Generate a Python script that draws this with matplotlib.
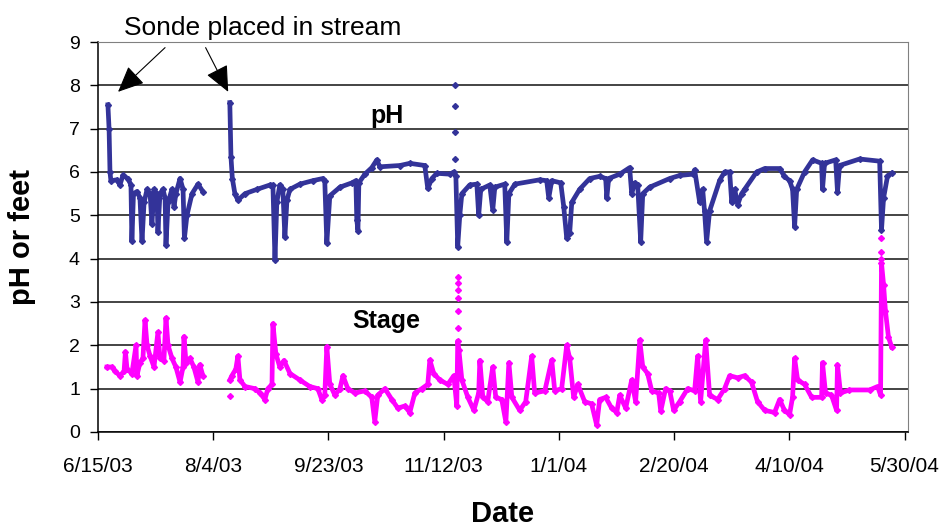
import numpy as np
import matplotlib
matplotlib.use("Agg")
import matplotlib.pyplot as plt

plt.rcParams['font.family'] = ['Liberation Sans', 'DejaVu Sans']

# ---- data (day offsets from 6/15/03) ----
tick_days = [0, 50, 100, 150, 200, 250, 300, 350]
tick_labels = ['6/15/03', '8/4/03', '9/23/03', '11/12/03', '1/1/04', '2/20/04', '4/10/04', '5/30/04']

ph_day = [4.3, 4.8, 5.2, 5.6, 8.2, 9.5, 10.8, 13.0, 14.3, 14.7, 15.4, 16.9, 18.2, 19.1, 20.0, 21.3,
          22.6, 23.4, 24.3, 25.6, 26.0, 26.9, 28.2, 29.1, 29.5, 30.4, 32.1, 33.0, 33.8, 35.6, 36.9,
          37.5, 38.6, 40.8, 43.4, 45.5, np.nan,
          57.2, 57.7, 58.3, 59.4, 60.7, 63.8, 69.0, 74.6, 75.9, 76.8, 77.6, 78.9, 80.2, 81.1, 82.0,
          83.3, 87.6, 93.2, 97.6, 98.4, 99.3, 100.6, 105.0, 110.2, 111.9, 112.3, 112.8, 113.2, 115.8,
          118.8, 121.0, 122.3, 131.0, 135.3, 141.8, 143.1, 144.9, 147.0, 152.7, 154.4, 155.3, 156.1,
          157.0, 157.9, 161.3, 164.4, 165.2, 166.1, 170.0, 171.3, 172.2, 176.5, 177.4, 178.3, 180.9,
          191.7, 194.7, 195.6, 196.9, 200.8, 202.1, 203.4, 204.7, 205.6, 209.0, 213.4, 217.7, 220.3,
          220.8, 221.6, 226.4, 230.7, 231.6, 232.9, 234.2, 235.5, 236.4, 239.4, 248.1, 252.4, 258.1,
          258.9, 261.1, 262.4, 263.2, 264.1, 265.4, 269.8, 271.9, 274.1, 275.0, 276.3, 277.6, 279.3,
          280.6, 285.8, 289.3, 295.8, 297.9, 300.1, 301.4, 302.3, 303.2, 306.6, 310.1, 314.0, 314.4,
          315.3, 320.1, 320.9, 321.8, 330.5, 339.2, 340.0, 340.9, 342.6, 344.4]
ph_val = [7.55, 7.0, 6.0, 5.8, 5.82, 5.7, 5.92, 5.85, 5.7, 4.4, 5.5, 5.55, 5.4, 4.4, 5.3, 5.6,
          5.5, 4.8, 5.6, 5.5, 4.62, 5.5, 5.6, 5.4, 4.32, 5.3, 5.6, 5.2, 5.5, 5.85, 5.6,
          4.47, 5.0, 5.5, 5.72, 5.55, np.nan,
          7.6, 6.35, 5.85, 5.5, 5.35, 5.5, 5.6, 5.7, 5.7, 3.97, 5.3, 5.7, 5.6, 4.5, 5.35,
          5.6, 5.72, 5.8, 5.85, 5.8, 4.36, 5.45, 5.65, 5.75, 5.8, 4.9, 4.65, 5.75, 5.95,
          6.1, 6.28, 6.12, 6.15, 6.2, 6.15, 5.62, 5.85, 5.97, 5.95, 6.0, 5.9, 4.28,
          5.0, 5.5, 5.7, 5.72, 5.0, 5.6, 5.7, 5.12, 5.65, 5.72, 4.39, 5.5, 5.72,
          5.82, 5.8, 5.4, 5.8, 5.75, 5.2, 4.47, 4.6, 5.3, 5.6, 5.85, 5.9, 5.85,
          5.4, 5.85, 5.95, 6.1, 5.5, 5.75, 5.7, 4.39, 5.5, 5.65, 5.85, 5.92, 5.95,
          6.05, 5.3, 5.6, 5.1, 4.39, 5.1, 5.81, 6.0, 6.0, 5.3, 5.6, 5.25, 5.5,
          5.6, 6.0, 6.08, 6.08, 5.9, 5.8, 5.6, 4.74, 5.6, 6.0, 6.28, 6.2, 5.6,
          6.2, 6.28, 5.55, 6.15, 6.3, 6.25, 4.66, 5.4, 5.9, 5.97]
ph_spike_day = [154.8, 154.8, 154.8, 154.8]
ph_spike_val = [8.0, 7.52, 6.93, 6.3]

stage_day = [3.9, 6.1, 7.4, 9.5, 11.3, 11.9, 12.6, 14.7, 16.5, 16.9, 18.2, 19.5, 20.4, 21.3, 22.6,
             24.3, 26.0, 26.9, 28.6, 29.5, 30.4, 32.1, 33.8, 35.6, 36.9, 37.3, 38.2, 39.9, 41.6,
             43.4, 44.2, 45.5, np.nan,
             57.2, 58.1, 59.8, 60.7, 61.6, 63.8, 68.1, 70.3, 72.4, 73.7, 75.5, 75.9, 77.2, 78.9,
             80.7, 83.3, 87.6, 91.9, 95.4, 97.1, 98.4, 99.3, 100.6, 102.8, 105.0, 106.3, 108.4,
             111.5, 115.8, 118.8, 120.1, 121.4, 124.5, 127.5, 130.1, 133.1, 135.3, 137.5, 140.5,
             143.1, 144.0, 145.7, 148.3, 151.8, 154.4, 155.7, 156.1, 156.6, 157.9, 160.5, 163.1,
             165.2, 165.7, 167.0, 169.1, 171.3, 172.6, 175.2, 177.0, 178.3, 179.6, 183.0, 185.6,
             188.2, 189.5, 193.9, 196.9, 198.2, 201.2, 203.4, 204.7, 206.4, 208.2, 211.2, 214.2,
             216.4, 217.7, 220.3, 222.9, 225.1, 226.4, 229.0, 231.6, 233.3, 235.1, 236.4, 238.5,
             240.3, 243.3, 244.2, 246.3, 248.1, 249.8, 252.4, 255.9, 258.9, 260.2, 261.5, 263.7,
             265.4, 268.9, 271.9, 274.1, 277.6, 280.6, 283.6, 286.2, 289.3, 293.6, 295.8, 297.9,
             300.1, 301.4, 302.3, 303.6, 306.6, 309.7, 314.0, 314.4, 315.7, 318.3, 320.5, 320.9,
             322.2, 326.1, 334.8, 338.3, 339.6, 340.0, 340.9, 341.7, 343.0, 344.4]
stage_val = [1.5, 1.5, 1.4, 1.3, 1.4, 1.85, 1.45, 1.35, 2.0, 1.3, 1.6, 1.7, 2.58, 2.0, 1.75,
             1.5, 2.3, 1.7, 1.65, 2.63, 2.0, 1.7, 1.5, 1.15, 1.5, 2.2, 1.6, 1.7, 1.5,
             1.15, 1.55, 1.3, np.nan,
             1.2, 1.3, 1.45, 1.75, 1.2, 1.05, 1.0, 0.9, 0.75, 1.0, 1.1, 2.5, 1.8, 1.5,
             1.65, 1.35, 1.2, 1.05, 1.0, 0.75, 0.85, 1.97, 1.1, 0.85, 1.0, 1.3, 1.0,
             0.9, 0.95, 0.8, 0.24, 0.85, 1.0, 0.75, 0.55, 0.6, 0.45, 0.9, 1.0,
             1.1, 1.66, 1.35, 1.2, 1.1, 1.3, 0.6, 2.1, 1.9, 1.2, 0.8, 0.5,
             0.9, 1.65, 0.8, 0.7, 1.5, 0.8, 0.75, 0.23, 1.6, 0.8, 0.5, 0.7,
             1.75, 0.9, 0.95, 1.66, 0.95, 1.0, 2.0, 1.7, 0.8, 1.1, 0.7, 0.65,
             0.16, 0.75, 0.8, 0.55, 0.45, 0.85, 0.55, 1.2, 0.7, 2.12, 1.5, 1.35,
             0.95, 0.9, 0.48, 1.0, 0.95, 0.5, 0.7, 1.0, 0.95, 1.75, 0.7, 2.12,
             0.85, 0.75, 1.0, 1.3, 1.25, 1.3, 1.15, 0.7, 0.5, 0.45, 0.75, 0.5,
             0.4, 0.8, 1.7, 1.2, 1.1, 0.8, 0.8, 1.6, 0.9, 0.85, 0.5, 1.55,
             0.9, 0.97, 0.97, 1.05, 0.85, 3.9, 3.4, 2.8, 2.2, 1.96]
stage_spike_day = [156.1, 156.1, 156.1, 156.1, 156.1, 156.1, 57.2, 340.0, 340.0, 340.0]
stage_spike_val = [3.58, 3.45, 3.28, 3.1, 2.8, 2.4, 0.83, 4.47, 4.16, 4.0]

PH_COLOR = '#333399'
STAGE_COLOR = '#FF00FF'

fig = plt.figure(figsize=(9.42, 5.27), dpi=100)
ax = fig.add_axes([98/942, 1 - 432/527, 810/942, 390/527])

ax.plot(ph_day, ph_val, color=PH_COLOR, lw=3.4, marker='D', ms=3, zorder=3)
ax.plot(ph_spike_day, ph_spike_val, linestyle='none', color=PH_COLOR, marker='D', ms=3, zorder=3)
ax.plot(stage_day, stage_val, color=STAGE_COLOR, lw=3.4, marker='D', ms=3, zorder=3)
ax.plot(stage_spike_day, stage_spike_val, linestyle='none', color=STAGE_COLOR, marker='D', ms=3, zorder=3)

ax.set_xlim(0, 351.5)
ax.set_ylim(0, 9)
ax.set_yticks(range(0, 10))
ax.set_xticks(tick_days)
ax.set_xticklabels(tick_labels)
ax.tick_params(axis='y', labelsize=14, length=6, width=1, pad=7, direction='out')
ax.tick_params(axis='x', labelsize=15, length=6, width=1, pad=12, direction='out')
ax.yaxis.grid(True, color='#111111', lw=1.1)
ax.set_axisbelow(True)
for s in ('top', 'right'):
    ax.spines[s].set_color('#808080')
for s in ('left', 'bottom'):
    ax.spines[s].set_color('black')
    ax.spines[s].set_linewidth(1.1)

ax.set_ylabel('pH or feet', fontsize=21, fontweight='bold')
ax.yaxis.set_label_coords(-0.077, 0.5)
ax.set_xlabel('Date', fontsize=21, fontweight='bold')
ax.xaxis.set_label_coords(0.5, -0.175)

ax.text(125.3, 7.12, 'pH', fontsize=18, fontweight='bold', ha='center', va='baseline')
ax.text(125.0, 2.40, 'Stage', fontsize=18, fontweight='bold', ha='center', va='baseline')

ax.text(71.6, 9.16, 'Sonde placed in stream', fontsize=19, ha='center', va='baseline', clip_on=False)
arrow = dict(arrowstyle='-|>,head_length=0.6,head_width=0.27', color='black', lw=0.8,
             shrinkA=0, shrinkB=0, mutation_scale=27)
ax.annotate('', xy=(8.7, 7.85), xytext=(29.1, 8.87), arrowprops=arrow, annotation_clip=False)
ax.annotate('', xy=(56.5, 7.85), xytext=(46.7, 8.87), arrowprops=arrow, annotation_clip=False)

fig.savefig('out.png', dpi=100)
